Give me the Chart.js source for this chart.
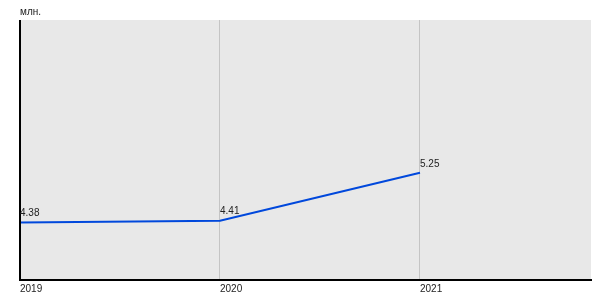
<!DOCTYPE html>
<html>
<head>
<meta charset="utf-8">
<script src="https://cdn.jsdelivr.net/npm/chart.js@4/dist/chart.umd.min.js"></script>
<style>
  html, body { margin: 0; padding: 0; background: #fff; }
  #wrap { width: 600px; height: 300px; }
</style>
</head>
<body>
<div id="wrap"><canvas id="chart"></canvas></div>
<script>
var years = [2019, 2020, 2021];
var values = [4.38, 4.41, 5.25];
var unitLabel = "млн.";

var font = "10px 'Liberation Sans', Arial, sans-serif";

// background, left axis line, unit label and value labels
var decorations = {
  id: "decorations",
  beforeDraw: function (chart) {
    var ctx = chart.ctx;
    var a = chart.chartArea;
    ctx.save();
    ctx.fillStyle = "#e8e8e8";
    ctx.fillRect(a.left, a.top, a.right - a.left, a.bottom - a.top);
    ctx.restore();
  },
  afterDraw: function (chart) {
    var ctx = chart.ctx;
    var a = chart.chartArea;
    ctx.save();
    ctx.strokeStyle = "#000";
    ctx.lineWidth = 2;
    ctx.beginPath();
    ctx.moveTo(a.left, a.top);
    ctx.lineTo(a.left, a.bottom);
    ctx.stroke();

    ctx.font = font;
    ctx.fillStyle = "#222";
    ctx.textAlign = "left";
    ctx.textBaseline = "middle";
    ctx.fillText(unitLabel, a.left, a.top - 8);

    ctx.textBaseline = "bottom";
    var meta = chart.getDatasetMeta(0);
    meta.data.forEach(function (pt, i) {
      ctx.fillText(values[i].toFixed(2), pt.x, pt.y - 4);
    });
    ctx.restore();
  }
};

new Chart(document.getElementById("chart").getContext("2d"), {
  type: "line",
  data: {
    datasets: [
      {
        data: years.map(function (y, i) { return { x: y, y: values[i] }; }),
        borderColor: "#0048dc",
        borderWidth: 2,
        pointRadius: 0,
        tension: 0,
        fill: false
      }
    ]
  },
  options: {
    responsive: true,
    maintainAspectRatio: false,
    animation: false,
    layout: { padding: { left: 20, right: 9, top: 20, bottom: 0 } },
    plugins: { legend: { display: false }, tooltip: { enabled: false } },
    scales: {
      x: {
        type: "linear",
        min: 2019,
        max: 2021.855,
        afterBuildTicks: function (axis) {
          axis.ticks = years.map(function (y) { return { value: y }; });
        },
        afterFit: function (axis) { axis.height = 20; },
        grid: { color: "#c4c4c4", drawTicks: false },
        border: { color: "#000", width: 2 },
        ticks: {
          align: "start",
          padding: 3,
          color: "#222",
          font: { family: "'Liberation Sans', Arial, sans-serif", size: 10 },
          callback: function (v) { return String(v); }
        }
      },
      y: {
        display: false,
        min: 3.37,
        max: 7.93
      }
    }
  },
  plugins: [decorations]
});
</script>
</body>
</html>
